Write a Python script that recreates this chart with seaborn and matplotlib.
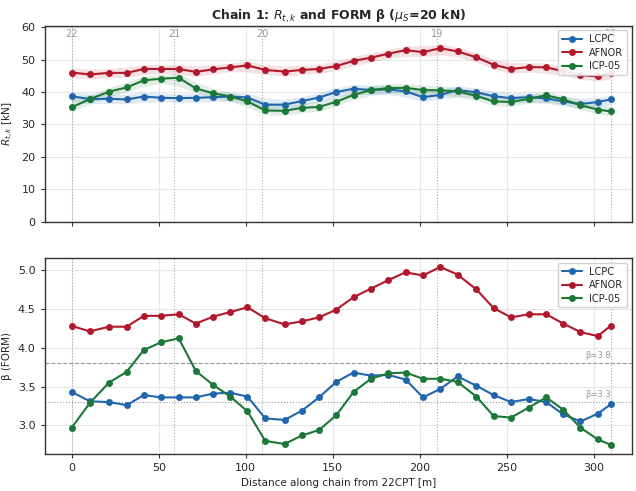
import numpy as np
import pandas as pd
import matplotlib
matplotlib.use("Agg")
import matplotlib.pyplot as plt
import seaborn as sns

# ---------------- data ----------------
dist = [0, 10.5, 21.4, 31.6, 41.4, 51.4, 61.5, 71.3, 81.3, 91.2, 101.0, 111.2,
        122.3, 132.3, 142.1, 152.0, 161.9, 171.9, 181.9, 191.8, 201.8, 211.8,
        221.7, 232.5, 242.4, 252.4, 262.6, 272.6, 282.5, 292.3, 302.2, 309.6]

methods = ["LCPC", "AFNOR", "ICP-05"]

rtk_lcpc = [38.7, 37.8, 37.9, 37.7, 38.6, 38.2, 38.1, 38.2, 38.4, 38.6, 38.3, 36.1,
            36.1, 37.2, 38.3, 40.0, 41.0, 40.6, 40.8, 40.2, 38.4, 39.1, 40.6, 39.9,
            38.7, 38.1, 38.4, 38.0, 37.1, 36.3, 36.9, 37.7]
rtk_afnor = [46.0, 45.4, 45.9, 45.9, 47.1, 47.1, 47.1, 46.2, 47.0, 47.6, 48.2, 46.8,
             46.3, 46.8, 47.1, 48.0, 49.6, 50.6, 51.8, 52.9, 52.3, 53.5, 52.5, 50.7,
             48.4, 47.1, 47.7, 47.6, 46.4, 45.2, 44.8, 45.9]
rtk_icp = [35.3, 37.8, 40.1, 41.4, 43.6, 44.1, 44.4, 41.1, 39.6, 38.6, 37.1, 34.3,
           34.2, 35.1, 35.4, 37.0, 39.1, 40.6, 41.2, 41.3, 40.6, 40.5, 40.2, 38.8,
           37.1, 36.9, 37.9, 39.0, 37.7, 35.9, 34.6, 34.0]

beta_lcpc = [3.43, 3.31, 3.30, 3.26, 3.39, 3.36, 3.36, 3.36, 3.41, 3.42, 3.37, 3.09,
             3.07, 3.19, 3.36, 3.56, 3.68, 3.64, 3.65, 3.59, 3.36, 3.47, 3.63, 3.51,
             3.39, 3.30, 3.34, 3.30, 3.14, 3.05, 3.15, 3.27]
beta_afnor = [4.28, 4.21, 4.27, 4.27, 4.41, 4.41, 4.43, 4.31, 4.40, 4.46, 4.52, 4.38,
              4.30, 4.34, 4.39, 4.49, 4.65, 4.76, 4.87, 4.97, 4.93, 5.04, 4.94, 4.75,
              4.51, 4.39, 4.43, 4.43, 4.31, 4.20, 4.15, 4.28]
beta_icp = [2.97, 3.29, 3.55, 3.69, 3.97, 4.07, 4.12, 3.70, 3.52, 3.37, 3.18, 2.80,
            2.76, 2.87, 2.94, 3.13, 3.43, 3.60, 3.67, 3.68, 3.60, 3.60, 3.56, 3.37,
            3.12, 3.10, 3.23, 3.36, 3.20, 2.97, 2.82, 2.75]

cpt_pos = [0.0, 59.0, 109.3, 209.9, 309.6]
cpt_names = ["22", "21", "20", "19", "18"]

beta_targets = [3.8, 3.3]
band_halfwidth = 1.35

# ---------------- style ----------------
sns.set_theme(style="ticks")
plt.rcParams["font.family"] = ["DejaVu Sans"]
colors = {"LCPC": "#2166ac", "AFNOR": "#b2182b", "ICP-05": "#1b7837"}

df_r = pd.DataFrame({
    "dist": dist * 3,
    "val": rtk_lcpc + rtk_afnor + rtk_icp,
    "method": ["LCPC"] * len(dist) + ["AFNOR"] * len(dist) + ["ICP-05"] * len(dist),
})
df_b = pd.DataFrame({
    "dist": dist * 3,
    "val": beta_lcpc + beta_afnor + beta_icp,
    "method": ["LCPC"] * len(dist) + ["AFNOR"] * len(dist) + ["ICP-05"] * len(dist),
})

fig = plt.figure(figsize=(6.36, 4.91), dpi=100)
ax1 = fig.add_axes([0.0703, 0.5485, 0.9237, 0.3995])
ax2 = fig.add_axes([0.0703, 0.076, 0.9237, 0.3985], sharex=ax1)

for ax in (ax1, ax2):
    ax.grid(True, color="#e6e6e6", linewidth=0.8)
    ax.set_axisbelow(True)
    for sp in ax.spines.values():
        sp.set_color("#333333")
        sp.set_linewidth(1.0)
    for p in cpt_pos:
        ax.axvline(p, color="#aaaaaa", linestyle=":", linewidth=0.8, zorder=1)

# bands (top panel)
for m, vals in zip(methods, [rtk_lcpc, rtk_afnor, rtk_icp]):
    s = pd.Series(vals)
    sm = s.rolling(3, center=True, min_periods=1).mean()
    lo = np.minimum(s, sm) - band_halfwidth
    hi = np.maximum(s, sm) + band_halfwidth
    ax1.fill_between(dist, lo, hi, color=colors[m], alpha=0.13, linewidth=0, zorder=2)

sns.lineplot(data=df_r, x="dist", y="val", hue="method", hue_order=methods,
             palette=colors, marker="o", markersize=5, markeredgewidth=0,
             linewidth=1.5, ax=ax1, zorder=3)
sns.lineplot(data=df_b, x="dist", y="val", hue="method", hue_order=methods,
             palette=colors, marker="o", markersize=5, markeredgewidth=0,
             linewidth=1.5, ax=ax2, zorder=3)

ax1.set_ylim(0, 60.5)
ax1.set_xlim(-15.5, 322)
for p, n in zip(cpt_pos, cpt_names):
    ax1.text(p, 59.3, n, ha="center", va="top", fontsize=7, color="#999999", zorder=1)

ax2.axhline(beta_targets[0], color="#999999", linestyle="--", linewidth=0.8, zorder=1)
ax2.axhline(beta_targets[1], color="#999999", linestyle=":", linewidth=0.8, zorder=1)
for b in beta_targets:
    ax2.text(309.6, b + 0.04, f"β={b}", ha="right", va="bottom", fontsize=6, color="#999999")

ax1.set_title(r"Chain 1: $R_{t,k}$ and FORM β ($\mu_S$=20 kN)", fontsize=9,
              fontweight="bold", pad=4)
ax1.set_ylabel(r"$R_{t,k}$ [kN]", fontsize=7.5)
ax1.set_xlabel("")
ax2.set_ylabel("β (FORM)", fontsize=7.5)
ax2.set_xlabel("Distance along chain from 22CPT [m]", fontsize=7.5, labelpad=4)
ax2.set_yticks([3.0, 3.5, 4.0, 4.5, 5.0])
ax2.set_xticks([0, 50, 100, 150, 200, 250, 300])

plt.setp(ax1.get_xticklabels(), visible=False)
for ax in (ax1, ax2):
    ax.tick_params(axis="both", labelsize=8, length=3, width=0.8, color="#333333")
    leg = ax.legend(loc="upper right", fontsize=7, frameon=True, framealpha=0.9,
                    borderpad=0.4, labelspacing=0.35, handlelength=2.0)
    leg.set_zorder(10)
    leg.get_frame().set_edgecolor("#cccccc")

fig.savefig("out.png", dpi=100)
